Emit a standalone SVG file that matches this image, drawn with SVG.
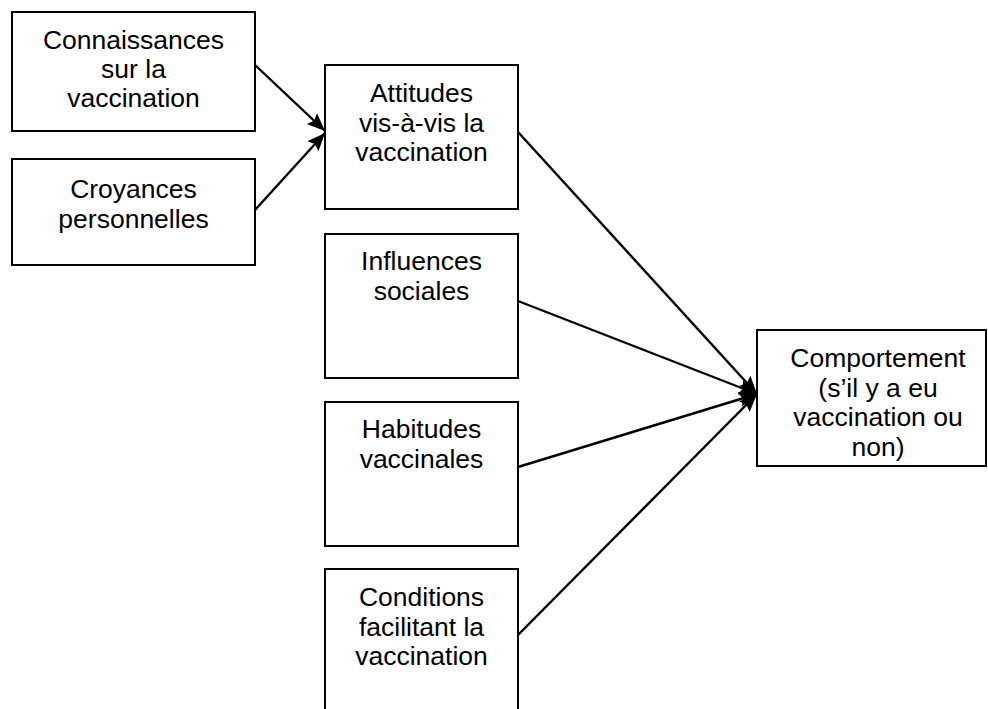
<svg xmlns="http://www.w3.org/2000/svg" width="988" height="709" viewBox="0 0 988 709">
<style>
.box{fill:#fff;stroke:#000;stroke-width:2}
.t{font-family:"Liberation Sans",Arial,sans-serif;font-size:26.5px;fill:#000;text-anchor:middle}
.c{stroke:#000;stroke-width:2.4;fill:none;marker-end:url(#ah)}
</style>
<defs>
<marker id="ah" markerUnits="userSpaceOnUse" markerWidth="20" markerHeight="18" refX="18" refY="9" orient="auto">
<path d="M0,1.5 L18,9 L0,16.5 L3,9 Z" fill="#000"/>
</marker>
</defs>
<rect width="988" height="709" fill="#fff"/>
<g id="n-connaissances">
<rect class="box" x="12" y="12" width="243" height="119"/>
<text class="t" x="133.5" y="49">Connaissances</text>
<text class="t" x="133.5" y="78">sur la</text>
<text class="t" x="133.5" y="107">vaccination</text>
</g>
<g id="n-croyances">
<rect class="box" x="12" y="159" width="243" height="106"/>
<text class="t" x="133.5" y="198">Croyances</text>
<text class="t" x="133.5" y="227.5">personnelles</text>
</g>
<g id="n-attitudes">
<rect class="box" x="325" y="65" width="193" height="144"/>
<text class="t" x="421.5" y="102">Attitudes</text>
<text class="t" x="421.5" y="131.5">vis-à-vis la</text>
<text class="t" x="421.5" y="161">vaccination</text>
</g>
<g id="n-influences">
<rect class="box" x="325" y="234" width="193" height="144"/>
<text class="t" x="421.5" y="270">Influences</text>
<text class="t" x="421.5" y="299.5">sociales</text>
</g>
<g id="n-habitudes">
<rect class="box" x="325" y="402" width="193" height="144"/>
<text class="t" x="421.5" y="438">Habitudes</text>
<text class="t" x="421.5" y="467.5">vaccinales</text>
</g>
<g id="n-conditions">
<rect class="box" x="325" y="569" width="193" height="150"/>
<text class="t" x="421.5" y="606">Conditions</text>
<text class="t" x="421.5" y="635.5">facilitant la</text>
<text class="t" x="421.5" y="665">vaccination</text>
</g>
<g id="n-comportement">
<rect class="box" x="757" y="330" width="229" height="136"/>
<text class="t" x="878" y="367">Comportement</text>
<text class="t" x="878" y="396.5">(s’il y a eu</text>
<text class="t" x="878" y="426">vaccination ou</text>
<text class="t" x="878" y="455.5">non)</text>
</g>
<g id="connectors">
<line class="c" x1="255" y1="65" x2="325" y2="131"/>
<line class="c" x1="255" y1="210" x2="325" y2="133"/>
<line class="c" x1="518" y1="132" x2="757" y2="394"/>
<line class="c" x1="518" y1="301" x2="757" y2="394"/>
<line class="c" x1="518" y1="467" x2="757" y2="394"/>
<line class="c" x1="518" y1="635" x2="757" y2="394"/>
</g>
</svg>
